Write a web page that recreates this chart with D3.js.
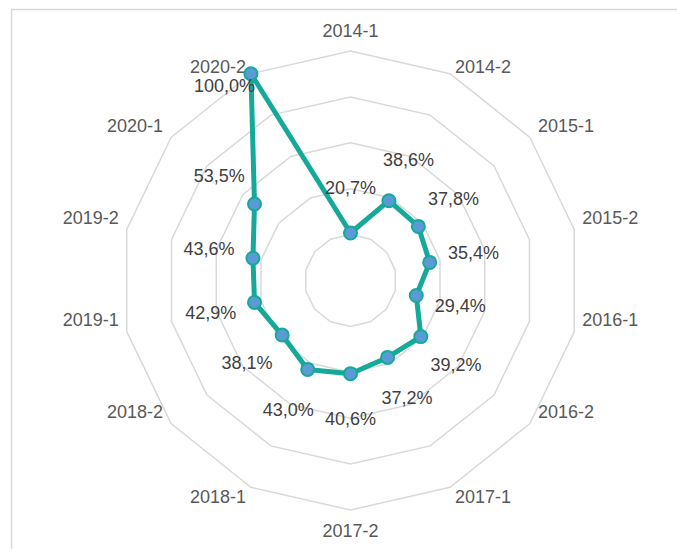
<!DOCTYPE html>
<html>
<head>
<meta charset="utf-8">
<script src="https://cdn.jsdelivr.net/npm/d3@7"></script>
<style>
  body { margin: 0; background: #fff; }
  text { font-family: "Liberation Sans", Arial, sans-serif; }
</style>
</head>
<body>
<svg id="chart" width="677" height="549"></svg>
<script>
var categories = ['2014-1', '2014-2', '2015-1', '2015-2', '2016-1', '2016-2', '2017-1',
                  '2017-2', '2018-1', '2018-2', '2019-1', '2019-2', '2020-1', '2020-2'];
var values = [20.7, 38.6, 37.8, 35.4, 29.4, 39.2, 37.2, 40.6, 43.0, 38.1, 42.9, 43.6, 53.5, 100.0];
var ringTicks = [20, 40, 60, 80, 100];

var cx = 350.5, cy = 280.5, R = 229.5;
var svg = d3.select('#chart');

// chart frame (cut off at right and bottom like the original)
svg.append('rect')
   .attr('x', 11.5).attr('y', 9.5)
   .attr('width', 720).attr('height', 600)
   .attr('fill', 'none').attr('stroke', '#d9d9d9').attr('stroke-width', 1.5);

var r = d3.scaleLinear().domain([0, 100]).range([0, R]);
var angle = d3.scalePoint().domain(categories).range([0, 2 * Math.PI * (1 - 1 / categories.length)]);

var g = svg.append('g').attr('transform', 'translate(' + cx + ',' + cy + ')');

function pt(cat, v) {
  var a = angle(cat);
  return [Math.sin(a) * r(v), -Math.cos(a) * r(v)];
}

// grid rings
g.selectAll('.ring')
 .data(ringTicks)
 .enter().append('polygon')
 .attr('class', 'ring')
 .attr('points', function(t) { return categories.map(function(c) { return pt(c, t).join(','); }).join(' '); })
 .attr('fill', 'none')
 .attr('stroke', '#d9d9d9')
 .attr('stroke-width', 1.5);

// category labels
var maxT = ringTicks[ringTicks.length - 1];
g.selectAll('.cat')
 .data(categories)
 .enter().append('text')
 .attr('class', 'cat')
 .attr('x', function(c) {
   var p = pt(c, maxT), s = Math.sin(angle(c));
   if (Math.abs(s) < 0.01) return p[0];
   var off = Math.abs(s) < 0.5 ? 5 : 8;
   return s > 0 ? p[0] + off : p[0] - off;
 })
 .attr('y', function(c) {
   var p = pt(c, maxT), co = Math.cos(angle(c));
   var dy;
   if (Math.abs(co) > 0.99) dy = co > 0 ? -20 : 21;
   else if (Math.abs(co) > 0.85) dy = co > 0 ? -7 : 9.5;
   else dy = -12;
   return p[1] + dy;
 })
 .attr('dy', '0.35em')
 .attr('text-anchor', function(c) {
   var s = Math.sin(angle(c));
   return Math.abs(s) < 0.01 ? 'middle' : (s > 0 ? 'start' : 'end');
 })
 .attr('font-size', 18)
 .attr('fill', '#595959')
 .text(function(c) { return c; });

// series line
var data = categories.map(function(c, i) { return { cat: c, v: values[i] }; });
var line = d3.line()
  .x(function(d) { return pt(d.cat, d.v)[0]; })
  .y(function(d) { return pt(d.cat, d.v)[1]; })
  .curve(d3.curveLinearClosed);

g.append('path')
 .datum(data)
 .attr('d', line)
 .attr('fill', 'none')
 .attr('stroke', '#15a99a')
 .attr('stroke-width', 5)
 .attr('stroke-linejoin', 'round');

g.selectAll('.dot')
 .data(data)
 .enter().append('circle')
 .attr('class', 'dot')
 .attr('cx', function(d) { return pt(d.cat, d.v)[0]; })
 .attr('cy', function(d) { return pt(d.cat, d.v)[1]; })
 .attr('r', 6.5)
 .attr('fill', '#5b9bd5')
 .attr('stroke', '#15a99a')
 .attr('stroke-width', 2);

// data labels, pushed outward; the one at the rim is tucked under its point
var fmt = function(v) { return v.toFixed(1).replace('.', ',') + '%'; };
g.selectAll('.lbl')
 .data(data)
 .enter().append('text')
 .attr('class', 'lbl')
 .attr('x', function(d) {
   var p = pt(d.cat, d.v);
   if (d.v >= maxT) return p[0] + 4;
   return pt(d.cat, d.v + r.invert(45))[0];
 })
 .attr('y', function(d) {
   var p = pt(d.cat, d.v);
   if (d.v >= maxT) return p[1] + 12;
   return pt(d.cat, d.v + r.invert(45))[1];
 })
 .attr('dy', '0.35em')
 .attr('text-anchor', function(d) { return d.v >= maxT ? 'end' : 'middle'; })
 .attr('font-size', 18)
 .attr('fill', '#404040')
 .text(function(d) { return fmt(d.v); });
</script>
</body>
</html>
